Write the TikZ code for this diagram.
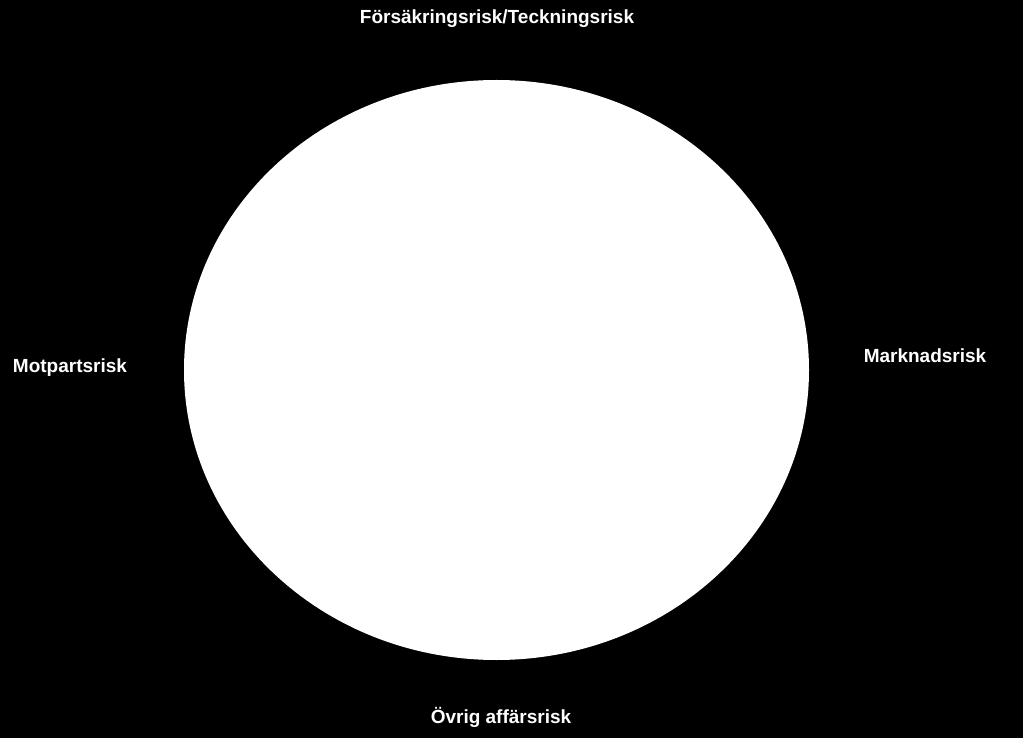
\documentclass[tikz,border=0pt]{standalone}
\usepackage{fontspec}
\setmainfont{Liberation Sans}
\begin{document}
\begin{tikzpicture}[x=1pt,y=-1pt,
  lbl/.style={text=white,font=\fontsize{19}{21}\selectfont\bfseries,inner sep=0pt,anchor=center}]
\fill[black] (0,0) rectangle (1023,738);
\useasboundingbox (0,0) rectangle (1023,738);
\fill[white] (496.5,370) ellipse [x radius=312.5, y radius=290];
\node[lbl] (top) at (497,19) {Försäkringsrisk/Teckningsrisk};
\node[lbl] (left) at (70,368) {Motpartsrisk};
\node[lbl] (right) at (925,356) {Marknadsrisk};
\node[lbl] (bottom) at (501,717) {Övrig affärsrisk};
\end{tikzpicture}
\end{document}
